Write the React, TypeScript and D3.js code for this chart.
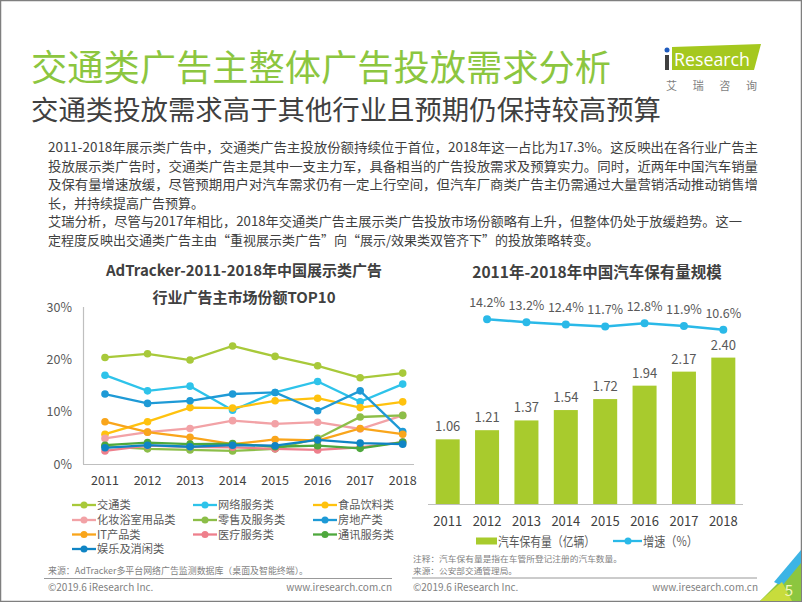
import React from 'react';
import * as d3 from 'd3';

const years = ['2011', '2012', '2013', '2014', '2015', '2016', '2017', '2018'];

// Line chart series (share %)
const seriesNames = ['交通类', '网络服务类', '食品饮料类', '化妆浴室用品类', '零售及服务类', '房地产类', 'IT产品类', '医疗服务类', '通讯服务类', '娱乐及消闲类'];
const seriesColors = ['#A8C93A', '#2EC3EA', '#FFC20E', '#F2A2A6', '#8CBE48', '#1E9AD6', '#F9A51B', '#EE7F8C', '#4EA83D', '#0F84C4'];
const jiaotong = [20.4, 21.1, 19.9, 22.6, 20.6, 18.8, 16.5, 17.4];
const wangluo = [17.0, 14.0, 14.9, 10.3, 13.7, 15.8, 11.9, 15.3];
const shipin = [5.7, 8.1, 10.8, 10.7, 12.1, 12.6, 10.8, 11.9];
const huazhuang = [4.9, 6.1, 6.8, 8.3, 7.7, 8.0, 6.7, 9.3];
const lingshou = [3.4, 2.9, 2.7, 2.5, 2.9, 4.9, 9.0, 9.3];
const fangdichan = [13.4, 11.6, 12.1, 13.4, 13.7, 10.2, 14.0, 6.2];
const itchanpin = [8.1, 6.1, 5.1, 3.8, 4.7, 4.5, 6.8, 5.7];
const yiliao = [2.5, 3.5, 3.3, 3.2, 2.9, 2.7, 3.2, 4.2];
const tongxun = [3.6, 4.1, 3.8, 3.9, 3.3, 3.5, 3.0, 4.2];
const yule = [3.1, 3.6, 3.3, 3.6, 3.5, 4.6, 4.0, 3.8];
const seriesValues = [jiaotong, wangluo, shipin, huazhuang, lingshou, fangdichan, itchanpin, yiliao, tongxun, yule];
const yTicks = [0, 10, 20, 30];

// Bar chart data
const vehicles = [1.06, 1.21, 1.37, 1.54, 1.72, 1.94, 2.17, 2.40];
const growthYears = ['2012', '2013', '2014', '2015', '2016', '2017', '2018'];
const growth = [14.2, 13.2, 12.4, 11.7, 12.8, 11.9, 10.6];

const bodyLines = [
  '2011-2018年展示类广告中，交通类广告主投放份额持续位于首位，2018年这一占比为17.3%。这反映出在各行业广告主',
  '投放展示类广告时，交通类广告主是其中一支主力军，具备相当的广告投放需求及预算实力。同时，近两年中国汽车销量',
  '及保有量增速放缓，尽管预期用户对汽车需求仍有一定上行空间，但汽车厂商类广告主仍需通过大量营销活动推动销售增',
  '长，并持续提高广告预算。',
  '艾瑞分析，尽管与2017年相比，2018年交通类广告主展示类广告投放市场份额略有上升，但整体仍处于放缓趋势。这一',
  '定程度反映出交通类广告主由“重视展示类广告”向“展示/效果类双管齐下”的投放策略转变。',
];
const bodyFull = [true, true, true, false, true, false];

const FONT = '"Noto Sans CJK SC", "Microsoft YaHei", sans-serif';
const GRAY = '#595959';
const DARK = '#404040';

export default function App() {
  // line chart scales
  const lx = d3.scalePoint<string>().domain(years).range([105, 402.7]);
  const ly = d3.scaleLinear().domain([0, 30]).range([464, 307.3]);
  const lineGen = d3.line<number>().x((_, i) => lx(years[i]) as number).y((d) => ly(d));

  // bar chart scales
  const bx = d3.scaleBand<string>().domain(years).range([428, 743]).paddingInner(0.39).paddingOuter(0.195);
  const by = d3.scaleLinear().domain([0, 2.6]).range([504, 504 - 2.6 * 61]);
  const gy = d3.scaleLinear().domain([10, 15]).range([331.4, 316.95]);
  const gLine = d3.line<number>().x((_, i) => (bx(growthYears[i]) as number) + bx.bandwidth() / 2).y((d) => gy(d));

  const legendCols = [72, 193, 313];
  const legendRows = [505, 520, 534.5, 549];

  return (
    <svg width={802} height={602} style={{ position: 'absolute', left: 0, top: 0, background: '#fff' }} fontFamily={FONT}>
      <rect x={0.5} y={0.5} width={801} height={601} fill="#fff" stroke="#7f7f7f" strokeWidth={1.5} />

      {/* Titles */}
      <text x={31} y={81} fontSize={36} fill="#8CC63F" textLength={580} lengthAdjust="spacingAndGlyphs">交通类广告主整体广告投放需求分析</text>
      <text x={31} y={120} fontSize={27} fill={DARK} textLength={630} lengthAdjust="spacingAndGlyphs">交通类投放需求高于其他行业且预期仍保持较高预算</text>

      {/* Logo */}
      <polygon points="672,47 761,44 754,70 672,70" fill="#A5C81E" />
      <rect x={665} y={55} width={4} height={15} fill="#404040" />
      <circle cx={667} cy={50} r={2.5} fill="#1E5BBE" />
      <text x={674} y={66} fontSize={19} fill="#fff" fontFamily='"Liberation Sans Narrow", "Open Sans", sans-serif' textLength={76} lengthAdjust="spacingAndGlyphs">Research</text>
      <text x={666} y={90} fontSize={11} fill="#7f7f7f" textLength={91} lengthAdjust="spacing">艾瑞咨询</text>

      {/* Body text */}
      {bodyLines.map((t, i) => (
        <text key={i} x={48} y={152 + i * 18.6} fontSize={13} fill={DARK}
          {...(bodyFull[i] ? { textLength: i === 4 ? 694 : 710, lengthAdjust: 'spacingAndGlyphs' } : {})}>{t}</text>
      ))}

      {/* Line chart */}
      <text x={244} y={276} fontSize={15} fontWeight="bold" fill={DARK} textAnchor="middle">AdTracker-2011-2018年中国展示类广告</text>
      <text x={244} y={303} fontSize={15} fontWeight="bold" fill={DARK} textAnchor="middle">行业广告主市场份额TOP10</text>
      <line x1={83.5} x2={83.5} y1={307} y2={464} stroke="#BFBFBF" strokeWidth={1.2} />
      <line x1={83} x2={414} y1={464.5} y2={464.5} stroke="#BFBFBF" strokeWidth={1.2} />
      {yTicks.map((t) => (
        <text key={t} x={72} y={ly(t) + 4.5} fontSize={12.5} fill={GRAY} textAnchor="end">{t}%</text>
      ))}
      {years.map((y) => (
        <text key={y} x={lx(y) as number} y={484.5} fontSize={12.5} fill={DARK} textAnchor="middle">{y}</text>
      ))}
      {seriesValues.map((vals, si) => (
        <g key={si}>
          <path d={lineGen(vals) as string} fill="none" stroke={seriesColors[si]} strokeWidth={2.3} />
          {vals.map((v, i) => (
            <circle key={i} cx={lx(years[i]) as number} cy={ly(v)} r={3.8} fill={seriesColors[si]} />
          ))}
        </g>
      ))}
      {/* Line legend */}
      {seriesNames.map((n, i) => {
        const col = i < 9 ? i % 3 : 0;
        const row = Math.floor(i / 3);
        const x0 = legendCols[col];
        const yy = legendRows[row];
        return (
          <g key={n}>
            <line x1={x0} x2={x0 + 24} y1={yy} y2={yy} stroke={seriesColors[i]} strokeWidth={2.3} />
            <circle cx={x0 + 12} cy={yy} r={3.5} fill={seriesColors[i]} />
            <text x={x0 + 25} y={yy + 4} fontSize={11.2} fill={GRAY}>{n}</text>
          </g>
        );
      })}
      <text x={48} y={574} fontSize={9} fill="#7f7f7f" textLength={260} lengthAdjust="spacingAndGlyphs">来源：AdTracker多平台网络广告监测数据库（桌面及智能终端）。</text>
      <line x1={44} x2={392} y1={578.5} y2={578.5} stroke="#7f7f7f" strokeWidth={0.8} />
      <text x={48} y={591} fontSize={10} fill="#7f7f7f">©2019.6 iResearch Inc.</text>
      <text x={392} y={591} fontSize={10} fill="#7f7f7f" textAnchor="end">www.iresearch.com.cn</text>

      {/* Bar chart */}
      <text x={597} y={277.5} fontSize={15.5} fontWeight="bold" fill={DARK} textAnchor="middle">2011年-2018年中国汽车保有量规模</text>
      {vehicles.map((v, i) => {
        const x = bx(years[i]) as number;
        return (
          <g key={i}>
            <rect x={x} y={by(v)} width={bx.bandwidth()} height={504 - by(v)} fill="#A8CB2D" />
            <text x={x + bx.bandwidth() / 2} y={by(v) - 8} fontSize={13} fill={GRAY} textAnchor="middle">{v.toFixed(2)}</text>
          </g>
        );
      })}
      <line x1={428} x2={743} y1={504.5} y2={504.5} stroke="#BFBFBF" strokeWidth={1.2} />
      {years.map((y) => (
        <text key={y} x={(bx(y) as number) + bx.bandwidth() / 2} y={525.5} fontSize={13} fill={DARK} textAnchor="middle">{y}</text>
      ))}
      <path d={gLine(growth) as string} fill="none" stroke="#2AB9E8" strokeWidth={2.5} />
      {growth.map((g, i) => {
        const cx = (bx(growthYears[i]) as number) + bx.bandwidth() / 2;
        return (
          <g key={i}>
            <circle cx={cx} cy={gy(g)} r={4} fill="#2AB9E8" />
            <text x={cx} y={gy(g) - 12} fontSize={12.5} fill={GRAY} textAnchor="middle">{g.toFixed(1)}%</text>
          </g>
        );
      })}
      {/* Bar legend */}
      <rect x={476} y={537.5} width={21} height={7} fill="#A8CB2D" />
      <text x={498} y={545.5} fontSize={13} fill={GRAY} textLength={97} lengthAdjust="spacingAndGlyphs">汽车保有量（亿辆）</text>
      <line x1={613} x2={642} y1={541} y2={541} stroke="#2AB9E8" strokeWidth={2.3} />
      <circle cx={628} cy={541} r={3.5} fill="#2AB9E8" />
      <text x={643} y={545.5} fontSize={13} fill={GRAY} textLength={55} lengthAdjust="spacingAndGlyphs">增速（%）</text>

      <text x={413} y={562} fontSize={8} fill="#7f7f7f" textLength={209} lengthAdjust="spacingAndGlyphs">注释：汽车保有量是指在车管所登记注册的汽车数量。</text>
      <text x={413} y={574} fontSize={8} fill="#7f7f7f" textLength={104} lengthAdjust="spacingAndGlyphs">来源：公安部交通管理局。</text>
      <line x1={412} x2={757} y1={578} y2={578} stroke="#7f7f7f" strokeWidth={0.8} />
      <text x={413} y={591} fontSize={10} fill="#7f7f7f">©2019.6 iResearch Inc.</text>
      <text x={758} y={591} fontSize={10} fill="#7f7f7f" textAnchor="end">www.iresearch.com.cn</text>

      {/* Corner decoration */}
      <polygon points="760,601 801,560 801,601" fill="#8CC63F" />
      <polygon points="774,582 801,550 801,563 782,586" fill="#3CB4E5" />
      <polygon points="760,601 782,582 792,601" fill="#C8DC3C" />
      <text x={789} y={596} fontSize={15} fill="#F6F7C0" textAnchor="middle">5</text>
    </svg>
  );
}
